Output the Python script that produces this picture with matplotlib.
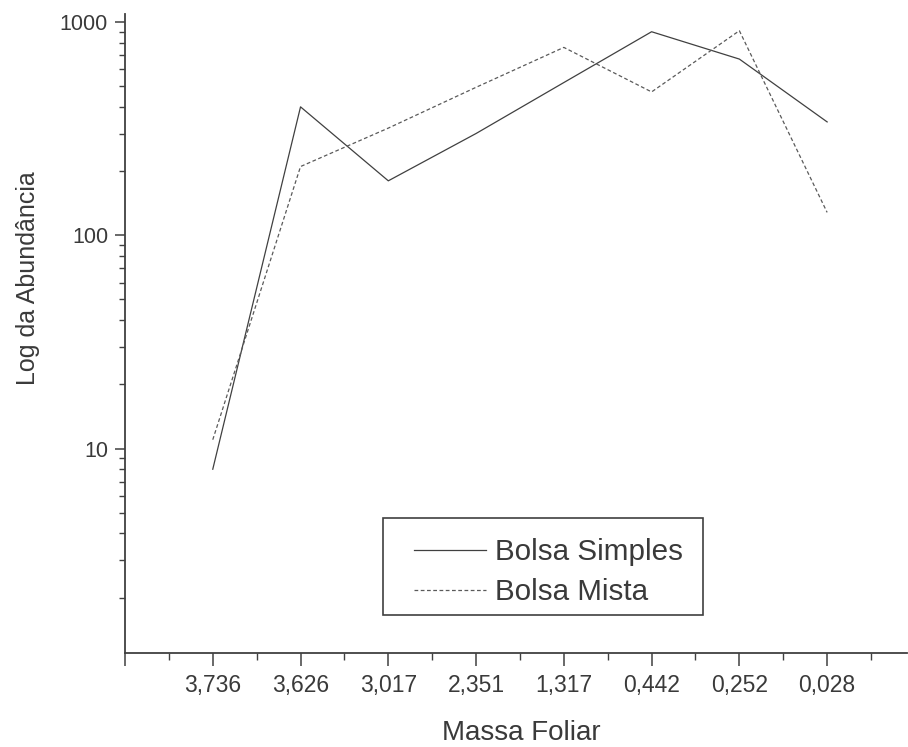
import matplotlib
matplotlib.use("Agg")
import matplotlib.pyplot as plt
from matplotlib.ticker import FixedLocator, LogLocator, NullFormatter, FixedFormatter
from matplotlib.patches import Rectangle

categories = ["3,736", "3,626", "3,017", "2,351", "1,317", "0,442", "0,252", "0,028"]
bolsa_simples = [8, 400, 180, 300, 520, 900, 670, 340]
bolsa_mista = [11, 210, 318, 494, 760, 470, 910, 128]

plt.rcParams['font.family'] = ['Liberation Sans', 'DejaVu Sans']
W, H = 908, 747
fig = plt.figure(figsize=(W / 100, H / 100), dpi=100)
ax = fig.add_axes([125 / W, (H - 653) / H, (907 - 125) / W, (653 - 14) / H])

x = list(range(len(categories)))
tc = '#3a3a3a'
ax.plot(x, bolsa_simples, color='#404040', lw=0.9, ls='-', label='Bolsa Simples')
ax.plot(x, bolsa_mista, color='#5a5a5a', lw=0.9, ls=(0, (3, 2)), label='Bolsa Mista')

ax.set_yscale('log')
ax.set_ylim(1.1, 1090)
ax.set_xlim(-1, 7.91)

ax.yaxis.set_major_locator(FixedLocator([10, 100, 1000]))
ax.yaxis.set_major_formatter(FixedFormatter(['10', '100', '1000']))
ax.yaxis.set_minor_locator(LogLocator(base=10, subs=range(2, 10)))
ax.yaxis.set_minor_formatter(NullFormatter())

ax.xaxis.set_major_locator(FixedLocator([-1] + x))
ax.xaxis.set_major_formatter(FixedFormatter([''] + categories))
ax.xaxis.set_minor_locator(FixedLocator([i + 0.5 for i in range(-1, 8)]))

for s in ['top', 'right']:
    ax.spines[s].set_visible(False)
for s in ['left', 'bottom']:
    ax.spines[s].set_color('#404040')
    ax.spines[s].set_linewidth(1.3)

ax.tick_params(axis='y', which='major', direction='out', length=7.2, width=1.1,
               color='#404040', labelsize=15.5, labelcolor=tc, pad=5)
ax.tick_params(axis='y', which='minor', direction='out', length=4.3, width=1.0, color='#404040')
ax.tick_params(axis='x', which='major', direction='out', length=9.4, width=1.1,
               color='#404040', labelsize=16.5, labelcolor=tc, pad=6)
ax.tick_params(axis='x', which='minor', direction='out', length=5, width=1.0, color='#404040')

fig.text(28 / W, 1 - 278 / H, 'Log da Abundância', rotation=90, ha='center', va='center',
         fontsize=18, color=tc)
fig.text(521 / W, 1 - 733 / H, 'Massa Foliar', ha='center', va='center',
         fontsize=20, color=tc)

# legend frame
fig.patches.append(Rectangle((383 / W, 1 - 615 / H), (703 - 383) / W, (615 - 518) / H,
                             transform=fig.transFigure, fill=False, edgecolor='#404040', lw=1.2))
leg = ax.legend(loc='center left', bbox_to_anchor=(414 / W, 1 - 572 / H), bbox_transform=fig.transFigure,
                frameon=False, fontsize=21.3, handlelength=2.45, handletextpad=0.3,
                labelspacing=0.4, borderpad=0, borderaxespad=0)
for t in leg.get_texts():
    t.set_color(tc)

fig.savefig('out.png', dpi=100)
